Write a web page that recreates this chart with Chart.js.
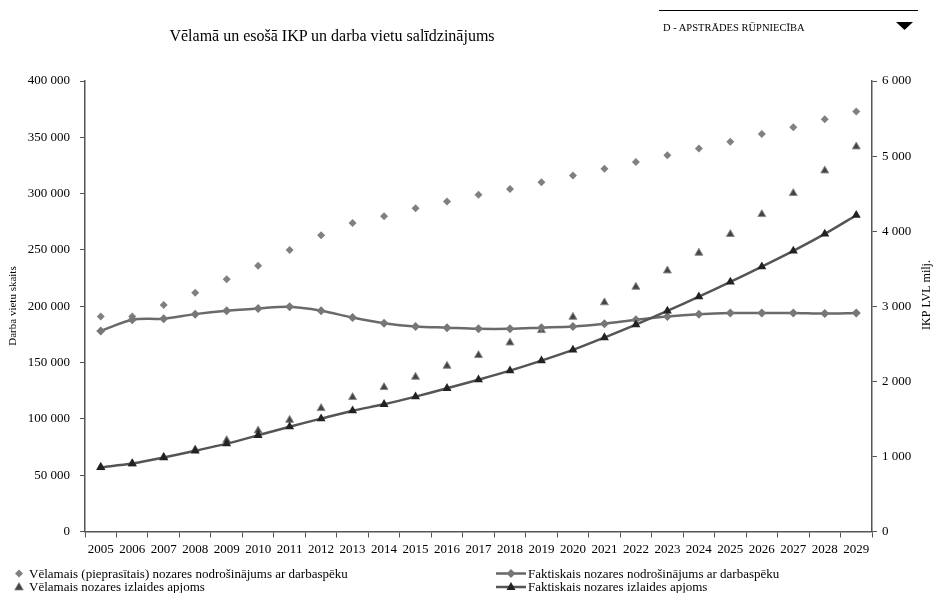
<!DOCTYPE html>
<html>
<head>
<meta charset="utf-8">
<script src="https://cdn.jsdelivr.net/npm/chart.js"></script>
<style>
  body { margin: 0; background: #fff; font-family: "Liberation Serif", "Times New Roman", serif; }
  #wrap { position: relative; width: 933px; height: 593px; }
  #chart { position: absolute; left: 0; top: 0; }
  .abs { position: absolute; white-space: nowrap; color: #000; font-weight: normal; }
  .title { left: 332px; top: 36px; transform: translate(-50%, -50%); font-size: 16px; }
  .sector { left: 663px; top: 27px; transform: translateY(-50%); font-size: 10.5px; }
  .topline { left: 659px; top: 10px; width: 259px; height: 1px; background: #000; }
  .legend { font-size: 13px; line-height: 13px; display: flex; align-items: center; transform: translateY(-50%); }
  .legend svg { margin-right: 1px; }
</style>
</head>
<body>
<div id="wrap">
  <canvas id="chart"></canvas>
  <div class="abs title">Vēlamā un esošā IKP un darba vietu salīdzinājums</div>
  <div class="abs topline"></div>
  <div class="abs sector">D - APSTRĀDES RŪPNIECĪBA</div>
  <svg class="abs" style="left:896px;top:22px" width="18" height="9"><polygon points="0,0 17,0 8.5,8" fill="#000"/></svg>

  <div class="abs legend" style="left:14px;top:573px">
    <svg width="14" height="10"><polygon points="5,1 9,5 5,9 1,5" fill="#808080"/></svg>
    <span>Vēlamais (pieprasītais) nozares nodrošinājums ar darbaspēku</span>
  </div>
  <div class="abs legend" style="left:14px;top:586px">
    <svg width="14" height="10"><polygon points="5,1 9.3,8.5 0.7,8.5" fill="#444" stroke="#888" stroke-width="0.8"/></svg>
    <span>Vēlamais nozares izlaides apjoms</span>
  </div>
  <div class="abs legend" style="left:496px;top:573px">
    <svg width="31" height="10"><line x1="0" y1="5" x2="30" y2="5" stroke="#666" stroke-width="2.5"/><polygon points="15,0.5 19.5,5 15,9.5 10.5,5" fill="#777"/></svg>
    <span>Faktiskais nozares nodrošinājums ar darbaspēku</span>
  </div>
  <div class="abs legend" style="left:496px;top:586px">
    <svg width="31" height="10"><line x1="0" y1="5.5" x2="30" y2="5.5" stroke="#555" stroke-width="2.5"/><polygon points="15,0.5 19.5,8.5 10.5,8.5" fill="#222"/></svg>
    <span>Faktiskais nozares izlaides apjoms</span>
  </div>
</div>

<script>
// gadi
const gadi = ['2005', '2006', '2007', '2008', '2009', '2010', '2011', '2012', '2013', '2014', '2015', '2016', '2017',
  '2018', '2019', '2020', '2021', '2022', '2023', '2024', '2025', '2026', '2027', '2028', '2029'];

// darba vietas (kreisā ass)
const velamaisNodrosinajums = [191000, 191000, 201000, 212000, 224000, 236000, 250000, 263000, 274000, 280000, 287000,
  293000, 299000, 304000, 310000, 316000, 322000, 328000, 334000, 340000, 346000, 353000, 359000, 366000, 373000];
const faktiskaisNodrosinajums = [178000, 188000, 189000, 193000, 196000, 198000, 199500, 196000, 190000, 185000, 182000,
  181000, 180000, 180000, 181000, 182000, 184500, 188000, 191000, 193000, 194000, 194000, 194000, 193500, 194000];

// IKP, LVL milj. (labā ass)
const velamaisIzlaide = [855, 905, 990, 1090, 1215, 1343, 1485, 1641, 1788, 1921, 2058, 2205, 2347, 2515, 2680, 2857,
  3050, 3257, 3474, 3710, 3959, 4225, 4505, 4806, 5126];
const faktiskaisIzlaide = [855, 905, 985, 1075, 1170, 1281, 1396, 1503, 1609, 1694, 1796, 1907, 2022, 2142, 2275, 2418,
  2583, 2755, 2937, 3128, 3324, 3527, 3737, 3963, 4212];

// ass iedaļas
const darbaVietuTicks = [0, 50000, 100000, 150000, 200000, 250000, 300000, 350000, 400000];
const ikpTicks = [0, 1000, 2000, 3000, 4000, 5000, 6000];

const serif = '"Liberation Serif", "Times New Roman", serif';
const asuKrasa = '#555';

function formatSkaitli(v) {
  return String(v).replace(/\B(?=(\d{3})+(?!\d))/g, ' ');
}

// asu nosaukumi - abi lasāmi no apakšas uz augšu
const asuNosaukumi = {
  id: 'asuNosaukumi',
  afterDraw(chart) {
    const c = chart.ctx;
    const uzraksti = [
      { teksts: 'Darba vietu skaits', x: 13, y: 306, izmers: 11 },
      { teksts: 'IKP LVL milj.', x: 927, y: 295, izmers: 12 }
    ];
    uzraksti.forEach(u => {
      c.save();
      c.translate(u.x, u.y);
      c.rotate(-Math.PI / 2);
      c.font = u.izmers + 'px ' + serif;
      c.fillStyle = '#000';
      c.textAlign = 'center';
      c.textBaseline = 'middle';
      c.fillText(u.teksts, 0, 0);
      c.restore();
    });
  }
};

const canvas = document.getElementById('chart');
canvas.width = 933;
canvas.height = 593;
const ctx = canvas.getContext('2d');

new Chart(ctx, {
  type: 'line',
  data: {
    labels: gadi,
    datasets: [
      {
        label: 'Faktiskais nozares nodrošinājums ar darbaspēku',
        data: faktiskaisNodrosinajums,
        yAxisID: 'y',
        borderColor: '#6a6a6a',
        borderWidth: 2.5,
        tension: 0.3,
        pointStyle: 'rectRot',
        pointRadius: 4.5,
        pointBorderWidth: 0,
        pointBackgroundColor: '#777',
        order: 2
      },
      {
        label: 'Faktiskais nozares izlaides apjoms',
        data: faktiskaisIzlaide,
        yAxisID: 'y1',
        borderColor: '#555',
        borderWidth: 2.5,
        tension: 0.3,
        pointStyle: 'triangle',
        pointRadius: 5.2,
        pointBorderWidth: 0,
        pointBackgroundColor: '#222',
        order: 1
      },
      {
        label: 'Vēlamais (pieprasītais) nozares nodrošinājums ar darbaspēku',
        data: velamaisNodrosinajums,
        yAxisID: 'y',
        showLine: false,
        pointStyle: 'rectRot',
        pointRadius: 4,
        pointBorderWidth: 0,
        pointBackgroundColor: '#808080',
        order: 4
      },
      {
        label: 'Vēlamais nozares izlaides apjoms',
        data: velamaisIzlaide,
        yAxisID: 'y1',
        showLine: false,
        pointStyle: 'triangle',
        pointRadius: 4.6,
        pointBorderWidth: 1,
        pointBackgroundColor: '#444',
        pointBorderColor: '#8a8a8a',
        order: 3
      }
    ]
  },
  options: {
    responsive: false,
    animation: false,
    layout: { padding: { top: 81, left: 0, right: 0, bottom: 0 } },
    plugins: {
      legend: { display: false },
      tooltip: { enabled: false }
    },
    scales: {
      x: {
        offset: true,
        grid: { display: true, drawOnChartArea: false, drawTicks: true, tickLength: 6, offset: true, color: asuKrasa },
        border: { display: true, color: asuKrasa, width: 1.5 },
        ticks: { color: '#000', font: { family: serif, size: 13 }, padding: 4, maxRotation: 0, autoSkip: false },
        afterFit: function (s) { s.height = 61.5; }
      },
      y: {
        position: 'left',
        min: 0,
        max: 400000,
        afterBuildTicks: function (s) { s.ticks = darbaVietuTicks.map(v => ({ value: v })); },
        grid: { display: true, drawOnChartArea: false, drawTicks: true, tickLength: 5, color: asuKrasa },
        border: { display: true, color: asuKrasa, width: 1.5 },
        ticks: { color: '#000', font: { family: serif, size: 13 }, padding: 10, callback: formatSkaitli },
        afterFit: function (s) { s.width = 85; }
      },
      y1: {
        position: 'right',
        min: 0,
        max: 6000,
        afterBuildTicks: function (s) { s.ticks = ikpTicks.map(v => ({ value: v })); },
        grid: { display: true, drawOnChartArea: false, drawTicks: true, tickLength: 5, color: asuKrasa },
        border: { display: true, color: asuKrasa, width: 1.5 },
        ticks: { color: '#000', font: { family: serif, size: 13 }, padding: 5, callback: formatSkaitli },
        afterFit: function (s) { s.width = 61; }
      }
    }
  },
  plugins: [asuNosaukumi]
});
</script>
</body>
</html>
